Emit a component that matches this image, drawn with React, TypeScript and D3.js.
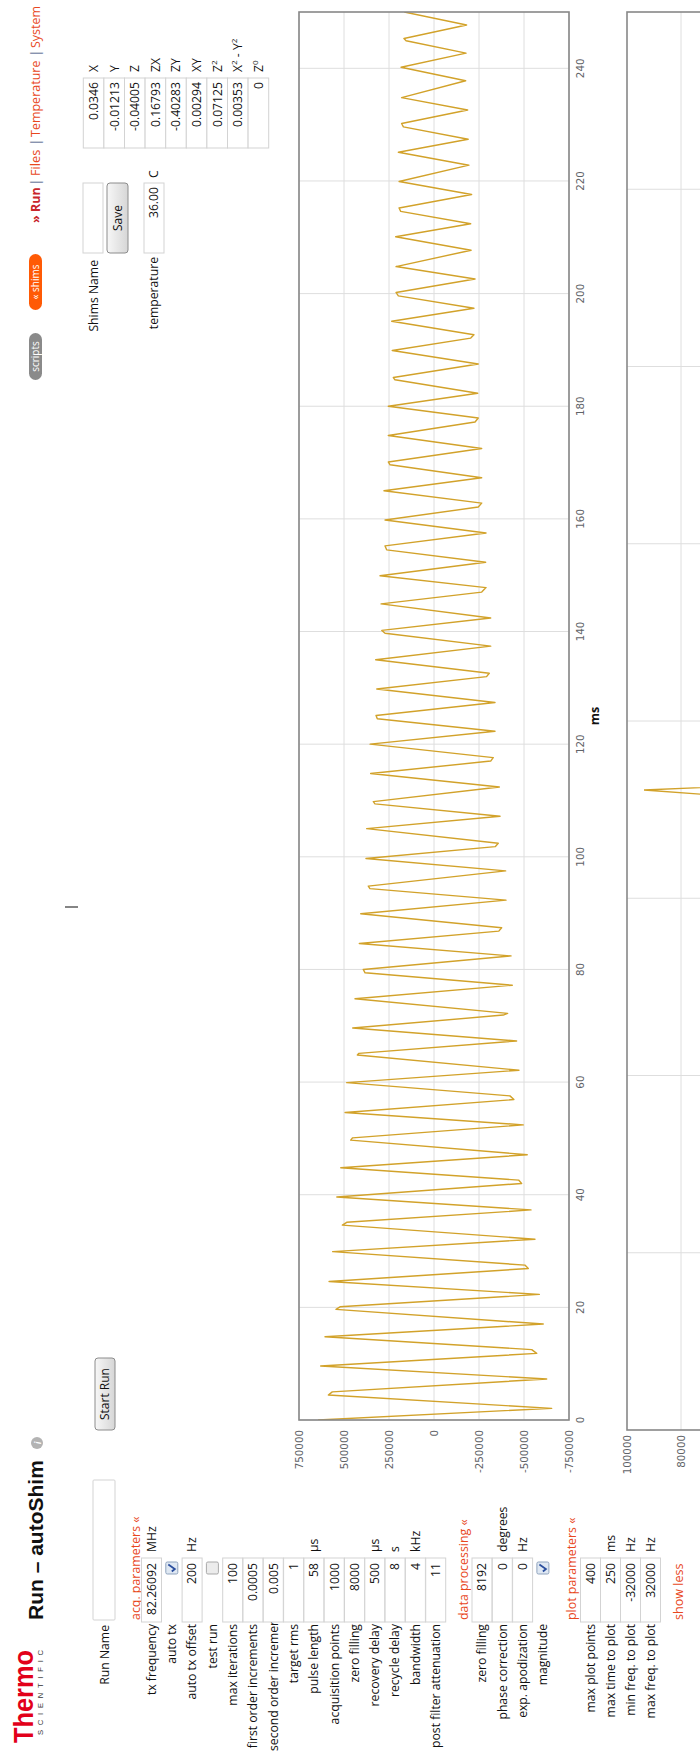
import React, { useLayoutEffect, useRef, useState } from 'react';
import * as d3 from 'd3';

// ---- FID (time domain) trace: sample times in ms and signal amplitude ----
const fidTime = [
  0, 2.07, 4.43, 5.0, 7.28, 9.58, 11.83, 12.5, 14.79, 17.04, 19.64, 20.1, 22.3, 24.6, 26.9, 27.5,
  29.9, 32.1, 34.6, 35.1, 37.3, 39.6, 42.0, 42.6, 44.8, 47.1, 49.7, 50.1, 52.4, 54.6, 56.9, 57.55,
  59.9, 62.1, 64.8, 65.1, 67.3, 69.6, 71.9, 72.2, 74.8, 77.2, 79.4, 80.0, 82.4, 84.6, 86.8, 87.4,
  89.9, 92.3, 94.35, 94.8, 97.5, 99.7, 101.8, 102.4, 105.0, 107.2, 109.4, 109.8, 112.4, 114.8,
  117.0, 117.6, 120.0, 122.3, 124.5, 125.1, 127.4, 129.8, 132.0, 132.6, 135.0, 137.4, 139.7, 140.2,
  142.4, 144.9, 147.0, 147.8, 149.9, 152.3, 154.5, 155.2, 157.5, 159.8, 162.1, 162.8, 165.0, 167.3,
  169.6, 170.1, 172.5, 174.8, 177.2, 177.9, 180.0, 182.3, 184.7, 185.1, 187.5, 189.9, 192.1, 192.7,
  195.1, 197.4, 199.6, 200.2, 202.6, 204.8, 207.7, 210.1, 212.4, 214.6, 215.2, 217.6, 219.9, 222.8,
  225.1, 227.4, 229.6, 230.2, 232.6, 234.8, 237.8, 240.2, 242.7, 244.9, 245.3, 247.7, 250,
];
const fidSignal = [
  644000, -654000, 587000, 565000, -626000, 629600, -570500, -543000, 605600, -607000, 544400, 522000,
  -585000, 583000, -524000, -505000, 563000, -561000, 509000, 485000, -539000, 540000, -487000, -470000,
  518000, -518000, 463000, 452000, -496000, 494000, -444000, -422000, 485000, -472000, 426000, 417000,
  -459000, 451700, -385000, -409000, 439000, -435000, 383000, 393000, -428000, 415000, -360000, -376000,
  407000, -400000, 356000, 365000, -398000, 378000, -340000, -357000, 374000, -367000, 328000, 337000,
  -363000, 352000, -315000, -329000, 355000, -339000, 315000, 322000, -339000, 318000, -292000, -307000,
  324000, -315000, 272000, 290000, -315000, 294000, -265000, -289000, 300000, -287000, 263000, 272000,
  -289000, 272000, -246000, -265000, 278000, -265000, 244000, 254000, -265000, 254000, -228000, -246000,
  254000, -243000, 217000, 226000, -246000, 232000, -204000, -222000, 235000, -222000, 198000, 211000,
  -228000, 211000, -206000, 213000, -204000, 185000, 194000, -209000, 194000, -194000, 198000, -190000,
  170000, 180000, -187000, 180000, -176000, 183000, -178000, 155000, 167000, -181000, 165000,
];

const timeTicks = [0, 20, 40, 60, 80, 100, 120, 140, 160, 180, 200, 220, 240];
const ampTicks = [750000, 500000, 250000, 0, -250000, -500000, -750000];

// ---- Spectrum (magnitude) ----
const specFreq = [-32000, -3940, -3114, -2640, 32000];
const specMag = [0, 600, 93700, 700, 0];
const freqGrid = [-24000, -16000, -8000, 0, 8000, 16000, 24000];
const magTicks = [100000, 80000];

// ---- Form contents ----
const acqLabels = ['tx frequency', 'auto tx', 'auto tx offset', 'test run', 'max iterations',
  'first order increments', 'second order increments', 'target rms', 'pulse length',
  'acquisition points', 'zero filling', 'recovery delay', 'recycle delay', 'bandwidth',
  'post filter attenuation'];
const acqValues = ['82.26092', '', '200', '', '100', '0.0005', '0.005', '1', '58', '1000', '8000',
  '500', '8', '4', '11'];
const acqUnits = ['MHz', '', 'Hz', '', '', '', '', '', 'μs', '', '', 'μs', 's', 'kHz', ''];
const acqChecks = [null, true, null, false, null, null, null, null, null, null, null, null, null, null, null];

const procLabels = ['zero filling', 'phase correction', 'exp. apodization', 'magnitude'];
const procValues = ['8192', '0', '0', ''];
const procUnits = ['', 'degrees', 'Hz', ''];
const procChecks = [null, null, null, true];

const plotLabels = ['max plot points', 'max time to plot', 'min freq. to plot', 'max freq. to plot'];
const plotValues = ['400', '250', '-32000', '32000'];
const plotUnits = ['', 'ms', 'Hz', 'Hz'];

const shimValues = ['0.0346', '-0.01213', '-0.04005', '0.16793', '-0.40283', '0.00294', '0.07125',
  '0.00353', '0'];
const shimNames: string[][] = [['X'], ['Y'], ['Z'], ['ZX'], ['ZY'], ['XY'], ['Z', '2'],
  ['X', '2', ' - Y', '2'], ['Z', '0']];

const navItems = ['Files', 'Temperature', 'System'];

const UI_FONT = "'Open Sans', 'Noto Sans', sans-serif";
const RED = '#e8471d';

function RowLabel({ text, y }: { text: string; y: number }) {
  const ref = useRef<SVGTextElement>(null);
  const [wide, setWide] = useState(false);
  useLayoutEffect(() => {
    if (ref.current && ref.current.getComputedTextLength() > 127) setWide(true);
  }, [text]);
  return (
    <text ref={ref} x={wide ? 3 : 130} y={y} textAnchor={wide ? 'start' : 'end'}
      clipPath="url(#labelClip)" fontSize={12.2} fill="#111">{text}</text>
  );
}

function CheckBox({ cx, cy, checked }: { cx: number; cy: number; checked: boolean }) {
  return (
    <g>
      <rect x={cx - 6} y={cy - 6} width={12} height={12} rx={1.5}
        fill={checked ? '#dfe8f3' : '#ececec'} stroke={checked ? '#8fa3bd' : '#a9a9a9'} />
      {checked && (
        <path d={`M${cx - 3.5},${cy} L${cx - 1},${cy + 3} L${cx + 3.5},${cy - 3.5}`}
          fill="none" stroke="#2b4f9e" strokeWidth={1.8} />
      )}
    </g>
  );
}

function FormRow({ label, value, unit, check, cy }:
  { label: string; value: string; unit: string; check: boolean | null; cy: number }) {
  return (
    <g>
      <RowLabel text={label} y={cy + 4.3} />
      {check === null ? (
        <g>
          <rect x={132} y={cy - 10} width={64} height={20} fill="#fff" stroke="#d3d3d3" />
          <text x={191} y={cy + 4.3} textAnchor="end" fontSize={12.2} fill="#111">{value}</text>
        </g>
      ) : (
        <CheckBox cx={186} cy={cy} checked={check} />
      )}
      {unit && <text x={202} y={cy + 4.3} fontSize={12.2} fill="#111">{unit}</text>}
    </g>
  );
}

export default function App() {
  // time-domain chart
  const x = d3.scaleLinear().domain([0, 250]).range([334, 1742]);
  const y = d3.scaleLinear().domain([-750000, 750000]).range([569, 299]);
  const fid = fidTime.map((t, i) => [t, fidSignal[i]] as [number, number]);
  const fidPath = d3.line<[number, number]>().x(d => x(d[0])).y(d => y(d[1]))(fid) || '';

  // frequency chart
  const fx = d3.scaleLinear().domain([-32000, 32000]).range([324, 1742]);
  const fy = d3.scaleLinear().domain([0, 100000]).range([897, 627]);
  const spec = specFreq.map((f, i) => [f, specMag[i]] as [number, number]);
  const specPath = d3.line<[number, number]>().x(d => fx(d[0])).y(d => fy(d[1]))(spec) || '';

  const acqY = acqLabels.map((_, i) => 151.5 + i * 20.3);
  const procY = procLabels.map((_, i) => 482 + i * 20.3);
  const plotY = plotLabels.map((_, i) => 590.5 + i * 20);

  return (
    <svg width={700} height={1754} viewBox="0 0 700 1754"
      style={{ position: 'absolute', left: 0, top: 0, display: 'block' }} fontFamily={UI_FONT}>
      <defs>
        <clipPath id="labelClip" clipPathUnits="userSpaceOnUse">
          <rect x={0} y={0} width={132} height={700} />
        </clipPath>
        <clipPath id="fidClip" clipPathUnits="userSpaceOnUse">
          <rect x={334} y={299} width={1408} height={270} />
        </clipPath>
        <clipPath id="specClip" clipPathUnits="userSpaceOnUse">
          <rect x={324} y={627} width={1418} height={270} />
        </clipPath>
        <linearGradient id="btnGrad" x1="0" y1="0" x2="0" y2="1">
          <stop offset="0" stopColor="#f7f7f7" />
          <stop offset="1" stopColor="#d6d6d6" />
        </linearGradient>
      </defs>
      <rect x={0} y={0} width={700} height={1754} fill="#fff" />
      <g transform="translate(0,1754) rotate(-90)">
        {/* logo */}
        <text x={11} y={33} fontFamily="'Liberation Sans', Arial, sans-serif" fontWeight="bold"
          fontSize={27} fill="#e2001a" textLength={93} lengthAdjust="spacingAndGlyphs">Thermo</text>
        <text x={19} y={42.5} fontFamily="'Liberation Sans', Arial, sans-serif" fontSize={7.6}
          fill="#333" textLength={85} lengthAdjust="spacing">SCIENTIFIC</text>

        {/* title */}
        <text x={134} y={43} fontFamily="'Liberation Sans', Arial, sans-serif" fontWeight="bold"
          fontSize={21} fill="#111">Run – autoShim</text>
        <circle cx={311} cy={37} r={6} fill="#b3b3b3" />
        <text x={311} y={40.5} textAnchor="middle" fontSize={9} fontWeight="bold"
          fontStyle="italic" fill="#fff">i</text>

        {/* run name */}
        <text x={129} y={108.5} textAnchor="end" fontSize={12.2} fill="#111">Run Name</text>
        <rect x={134} y={93} width={140} height={22} fill="#fff" stroke="#d3d3d3" rx={1} />
        <rect x={324} y={95} width={72} height={20} rx={3} fill="url(#btnGrad)" stroke="#8c8c8c" />
        <text x={360} y={109.3} textAnchor="middle" fontSize={12} fill="#111">Start Run</text>

        {/* text cursor */}
        <line x1={847} x2={847} y1={65} y2={78} stroke="#666" strokeWidth={1.6} />

        {/* acquisition parameters */}
        <text x={134} y={139.5} fontSize={12.4} fill={RED}>acq. parameters «</text>
        {acqLabels.map((l, i) => (
          <FormRow key={l} label={l} value={acqValues[i]} unit={acqUnits[i]} check={acqChecks[i]} cy={acqY[i]} />
        ))}

        <text x={134} y={467.5} fontSize={12.4} fill={RED}>data processing «</text>
        {procLabels.map((l, i) => (
          <FormRow key={l} label={l} value={procValues[i]} unit={procUnits[i]} check={procChecks[i]} cy={procY[i]} />
        ))}

        <text x={134} y={576} fontSize={12.4} fill={RED}>plot parameters «</text>
        {plotLabels.map((l, i) => (
          <FormRow key={l} label={l} value={plotValues[i]} unit={plotUnits[i]} check={null} cy={plotY[i]} />
        ))}
        <text x={134} y={683} fontSize={12.6} fill={RED}>show less</text>

        {/* time-domain chart */}
        <g>
          {timeTicks.map(t => (
            <line key={'gx' + t} x1={x(t)} x2={x(t)} y1={299} y2={569} stroke="#dedede" />
          ))}
          {ampTicks.map(a => (
            <line key={'gy' + a} x1={334} x2={1742} y1={y(a)} y2={y(a)} stroke="#dedede" />
          ))}
          <path d={fidPath} fill="none" stroke="#d2a22a" strokeWidth={1.4}
            strokeLinejoin="round" clipPath="url(#fidClip)" />
          <rect x={334} y={299} width={1408} height={270} fill="none" stroke="#888" strokeWidth={1.6} />
          {ampTicks.map(a => (
            <text key={'ty' + a} x={324} y={y(a) + 3.7} textAnchor="end"
              fontFamily="'DejaVu Sans', Verdana, sans-serif" fontSize={10.3} fill="#5f6368">{a}</text>
          ))}
          {timeTicks.map(t => (
            <text key={'tx' + t} x={x(t)} y={584} textAnchor="middle"
              fontFamily="'DejaVu Sans', Verdana, sans-serif" fontSize={10.3} fill="#5f6368">{t}</text>
          ))}
          <text x={x(125)} y={598.5} textAnchor="middle" fontSize={12.5} fontWeight="bold"
            fill="#111">ms</text>
        </g>

        {/* frequency chart */}
        <g>
          {freqGrid.map(f => (
            <line key={'fg' + f} x1={fx(f)} x2={fx(f)} y1={627} y2={897} stroke="#dedede" />
          ))}
          <line x1={324} x2={1742} y1={fy(80000)} y2={fy(80000)} stroke="#dedede" />
          <path d={specPath} fill="none" stroke="#d2a22a" strokeWidth={1.3} clipPath="url(#specClip)" />
          <rect x={324} y={627} width={1418} height={270} fill="none" stroke="#888" strokeWidth={1.6} />
          {magTicks.map(m => (
            <text key={'mt' + m} x={319} y={fy(m) + 3.7} textAnchor="end"
              fontFamily="'DejaVu Sans', Verdana, sans-serif" fontSize={10.3} fill="#5f6368">{m}</text>
          ))}
        </g>

        {/* navigation */}
        <rect x={1374} y={29} width={47} height={13} rx={6.5} fill="#8a8a8a" />
        <text x={1397.5} y={38.8} textAnchor="middle" fontSize={10} fill="#fff">scripts</text>
        <rect x={1444} y={29} width={56} height={13} rx={6.5} fill="#ff5a05" />
        <text x={1472} y={38.8} textAnchor="middle" fontSize={10} fill="#fff">« shims</text>
        <text x={1531} y={40} fontSize={12.5} fontWeight="bold" fill="#c8262b">» Run</text>
        <text x={1572} y={40} textAnchor="middle" fontSize={12.5} fill="#2d3f73">|</text>
        <text x={1578} y={40} fontSize={12.8} fill={RED}>{navItems[0]}</text>
        <text x={1612} y={40} textAnchor="middle" fontSize={12.5} fill="#2d3f73">|</text>
        <text x={1617} y={40} fontSize={12.5} fill={RED}>{navItems[1]}</text>
        <text x={1701} y={40} textAnchor="middle" fontSize={12.5} fill="#2d3f73">|</text>
        <text x={1706} y={40} fontSize={12.5} fill={RED}>{navItems[2]}</text>

        {/* shims panel */}
        <text x={1494} y={97.5} textAnchor="end" fontSize={12.2} fill="#111">Shims Name</text>
        <rect x={1501} y={83} width={70} height={20} fill="#fff" stroke="#d3d3d3" />
        <rect x={1501} y={107} width={70} height={21} rx={3} fill="url(#btnGrad)" stroke="#8c8c8c" />
        <text x={1536} y={121.7} textAnchor="middle" fontSize={12} fill="#111">Save</text>
        <text x={1497} y={158} textAnchor="end" fontSize={12.2} fill="#111">temperature</text>
        <rect x={1501} y={144} width={70} height={20} fill="#fff" stroke="#d3d3d3" />
        <text x={1567} y={158.3} textAnchor="end" fontSize={12.2} fill="#111">36.00</text>
        <text x={1576} y={158.3} fontSize={12.2} fill="#111">C</text>

        {shimValues.map((v, i) => {
          const top = 83.3 + i * 20.6;
          return (
            <g key={'s' + i}>
              <rect x={1606} y={top} width={70} height={20.6} fill="#fff" stroke="#d3d3d3" />
              <text x={1672} y={top + 14.6} textAnchor="end" fontSize={12.2} fill="#111">{v}</text>
              <text x={1682} y={top + 14.6} fontSize={12.2} fill="#111">
                {shimNames[i].map((p, j) => (
                  <tspan key={j} fontSize={j % 2 ? 8 : 12.2} dy={j % 2 ? -5 : (j > 0 ? 5 : 0)}>{p}</tspan>
                ))}
              </text>
            </g>
          );
        })}
      </g>
    </svg>
  );
}
